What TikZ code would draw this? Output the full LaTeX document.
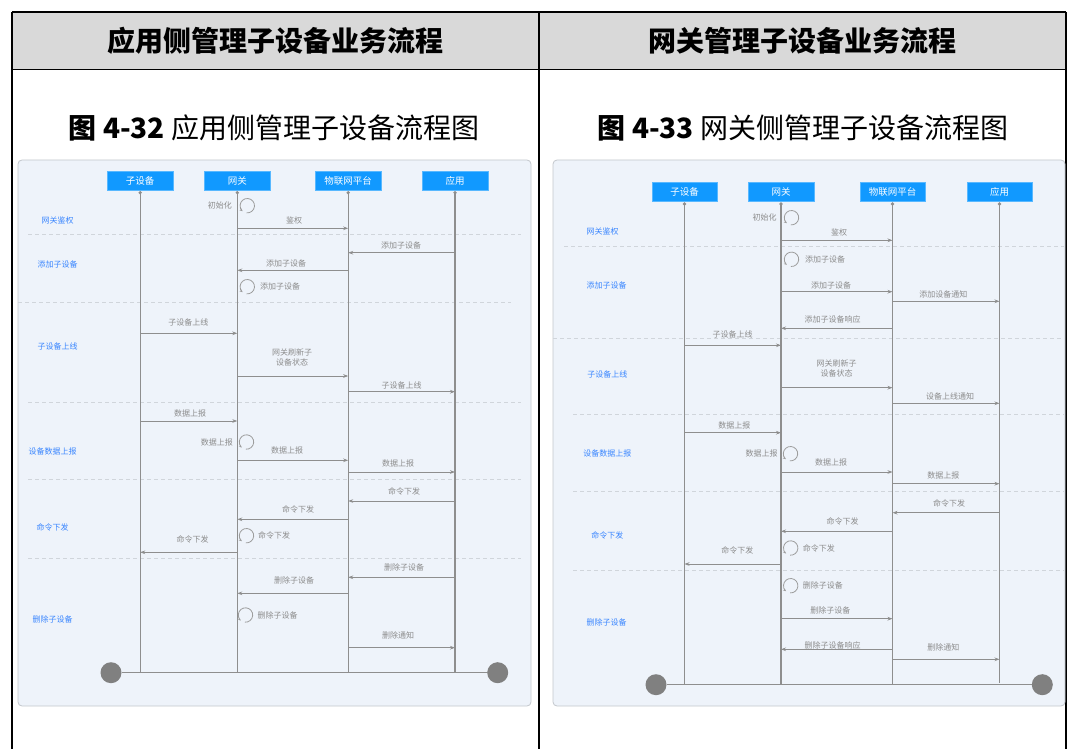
\documentclass[tikz,border=0pt]{standalone}
\usepackage{fontspec}
\setmainfont{Noto Sans CJK SC}
\usetikzlibrary{arrows.meta}
\definecolor{hdr}{HTML}{D9D9D9}
\definecolor{panelbg}{HTML}{EEF3FA}
\definecolor{panelbd}{HTML}{C3C7CC}
\definecolor{boxblue}{HTML}{1199FF}
\definecolor{lblblue}{HTML}{3A86FF}
\definecolor{msggray}{HTML}{8C8C8C}
\definecolor{linegray}{HTML}{8E8E8E}
\definecolor{tipgray}{HTML}{555555}
\definecolor{dashgray}{HTML}{D0D5DB}
\definecolor{endgray}{HTML}{808080}
\newcommand\sqmsg[6]{\draw[msg] (#1 |- 0,#3) -- (#2 |- 0,#3); \node[msglbl] at (#5,#6) {#4};}
\newcommand\sqloop[5]{\draw[loopc] (#1,#2) ++(265:7.2pt) arc[start angle=265, end angle=590, radius=7.2pt];
  \node[msglbl,anchor=#4] at (#5,#2) {#3};}
\begin{document}
\begin{tikzpicture}[x=1pt,y=-1pt,
  actor/.style={fill=boxblue, draw=boxblue!70!white, minimum width=65.5pt, minimum height=19pt, inner sep=0pt, text=white, font=\fontsize{9.5}{11}\selectfont},
  lifeline/.style={draw=linegray, line width=1.1pt},
  msg/.style={draw=linegray, line width=0.9pt, -{Stealth[length=5pt,width=3.6pt,fill=tipgray]}},
  msglbl/.style={text=msggray, font=\fontsize{8}{10}\selectfont, inner sep=0pt, align=center},
  phase/.style={text=lblblue, font=\fontsize{8}{10}\selectfont, inner sep=0pt},
  sepline/.style={draw=dashgray, dash pattern=on 4pt off 3pt, line width=0.7pt},
  loopc/.style={draw=msggray!85, line width=0.8pt, -{Stealth[length=3pt,width=2.6pt]}},
  endpt/.style={circle, fill=endgray, minimum size=21pt, inner sep=0pt},
  panel/.style={fill=panelbg, draw=panelbd, line width=0.8pt, rounded corners=4pt},
  tline/.style={draw=black, line width=1.2pt}]
\useasboundingbox (0,0) rectangle (1069,749);
% table
\fill[hdr] (12,12) rectangle (1066,69.5);
\draw[tline] (12,12) -- (1066,12);
\draw[tline] (12,69.5) -- (1066,69.5);
\draw[tline] (12,12) -- (12,749);
\draw[tline] (539,12) -- (539,749);
\draw[tline] (1066,12) -- (1066,749);
\node[font=\fontsize{28}{30}\selectfont\bfseries] (h1) at (275.5,40.5) {应用侧管理子设备业务流程};
\node[font=\fontsize{28}{30}\selectfont\bfseries] (h2) at (802.5,40.5) {网关管理子设备业务流程};
\node[font=\fontsize{28}{30}\selectfont] (t1) at (274,128) {{\bfseries 图 4-32} 应用侧管理子设备流程图};
\node[font=\fontsize{28}{30}\selectfont] (t2) at (803,128) {{\bfseries 图 4-33} 网关侧管理子设备流程图};
% ================= left panel
\draw[panel] (18,160) rectangle (531,706);
\foreach \yy/\xa/\xb in {234.3/28/521, 302.7/18/511, 402.3/28/521, 479.3/28/521, 558.3/28/521}
  \draw[sepline] (\xa,\yy) -- (\xb,\yy);
\node[actor] (sd1) at (140.2,180.5) {子设备};
\node[actor] (gw1) at (237.3,180.5) {网关};
\node[actor] (pf1) at (348.2,180.5) {物联网平台};
\node[actor] (app1) at (455,180.5) {应用};
\foreach \n in {sd1,gw1,pf1,app1}{
  \coordinate (\n top) at (\n |- 0,192.7);
  \coordinate (\n bot) at (\n |- 0,672.7);
  \draw[lifeline] (\n top) -- (\n bot);
  \fill[linegray] (\n top) circle (1.8pt);
}
\node[endpt] (e1a) at (111,672.7) {};
\node[endpt] (e1b) at (497.7,672.7) {};
\draw[draw=linegray, line width=1.5pt] (e1a) -- (e1b);
\node[phase] (p1a) at (57.7,220) {网关鉴权};
\node[phase] (p1b) at (57.7,264) {添加子设备};
\node[phase] (p1c) at (57.7,346) {子设备上线};
\node[phase] (p1d) at (52.7,451.7) {设备数据上报};
\node[phase] (p1e) at (52.7,527.7) {命令下发};
\node[phase] (p1f) at (52.7,619) {删除子设备};
\sqloop{247.3}{205.7}{初始化}{east}{232}
\sqmsg{gw1}{pf1}{228.3}{鉴权}{294}{220.7}
\sqmsg{app1}{pf1}{252.7}{添加子设备}{401}{245.3}
\sqmsg{pf1}{gw1}{270.3}{添加子设备}{286}{263.3}
\sqloop{247.3}{286.7}{添加子设备}{west}{260}
\sqmsg{sd1}{gw1}{333.3}{子设备上线}{188.3}{322.7}
\sqmsg{gw1}{pf1}{376}{网关刷新子\\设备状态}{292}{357.5}
\sqmsg{pf1}{app1}{391.7}{子设备上线}{401.7}{385.2}
\sqmsg{sd1}{gw1}{421}{数据上报}{190}{413.3}
\sqloop{246.5}{442}{数据上报}{east}{233}
\sqmsg{gw1}{pf1}{460.3}{数据上报}{287}{450.7}
\sqmsg{pf1}{app1}{472}{数据上报}{398}{463.3}
\sqmsg{app1}{pf1}{501}{命令下发}{404}{491.7}
\sqmsg{pf1}{gw1}{519.3}{命令下发}{298}{509.3}
\sqloop{246.5}{535.7}{命令下发}{west}{258}
\sqmsg{gw1}{sd1}{552.3}{命令下发}{192.7}{539.3}
\sqmsg{app1}{pf1}{577.3}{删除子设备}{404}{567.3}
\sqmsg{pf1}{gw1}{593.3}{删除子设备}{294}{580.7}
\sqloop{245.5}{615}{删除子设备}{west}{257.3}
\sqmsg{pf1}{app1}{647.7}{删除通知}{398}{635.7}
% ================= right panel
\draw[panel] (553,160) rectangle (1065,706);
\foreach \yy/\xa/\xb in {246/564/1064, 338.7/553/1064, 414.3/573/1064, 491.3/573/1064, 570/573/1064}
  \draw[sepline] (\xa,\yy) -- (\xb,\yy);
\node[actor] (sd2) at (684.5,192.2) {子设备};
\node[actor] (gw2) at (781,192.2) {网关};
\node[actor] (pf2) at (892.5,192.2) {物联网平台};
\node[actor] (app2) at (999.5,192.2) {应用};
\foreach \n in {sd2,gw2,pf2}{
  \coordinate (\n top) at (\n |- 0,204);
  \coordinate (\n bot) at (\n |- 0,684.7);
  \draw[lifeline] (\n top) -- (\n bot);
  \fill[linegray] (\n top) circle (1.8pt);
}
\coordinate (app2top) at (app2 |- 0,204);
\coordinate (app2bot) at (app2 |- 0,682.7);
\draw[lifeline] (app2top) -- (app2bot);
\fill[linegray] (app2top) circle (1.8pt);
\node[endpt] (e2a) at (656,684.7) {};
\node[endpt] (e2b) at (1042.3,684.7) {};
\draw[draw=linegray, line width=1.5pt] (e2a) -- (e2b);
\node[phase] (p2a) at (602.7,231) {网关鉴权};
\node[phase] (p2b) at (606.7,285) {添加子设备};
\node[phase] (p2c) at (607.3,374) {子设备上线};
\node[phase] (p2d) at (607.3,453.7) {设备数据上报};
\node[phase] (p2e) at (607.3,535.3) {命令下发};
\node[phase] (p2f) at (606.7,622.3) {删除子设备};
\sqloop{791.5}{217.7}{初始化}{east}{776.7}
\sqmsg{gw2}{pf2}{240.3}{鉴权}{839}{232.3}
\sqloop{791.5}{259.3}{添加子设备}{west}{805}
\sqmsg{gw2}{pf2}{291.7}{添加子设备}{831}{285}
\sqmsg{pf2}{app2}{301.3}{添加设备通知}{943.3}{294.7}
\sqmsg{pf2}{gw2}{328.3}{添加子设备响应}{832.7}{319}
\sqmsg{sd2}{gw2}{345.3}{子设备上线}{732.7}{334}
\sqmsg{gw2}{pf2}{387.7}{网关刷新子\\设备状态}{836.7}{368.8}
\sqmsg{pf2}{app2}{403.3}{设备上线通知}{950}{396.5}
\sqmsg{sd2}{gw2}{432.7}{数据上报}{734.3}{425.3}
\sqloop{790.5}{453.7}{数据上报}{east}{777.7}
\sqmsg{gw2}{pf2}{472}{数据上报}{831}{462.7}
\sqmsg{pf2}{app2}{483.7}{数据上报}{943.3}{475.3}
\sqmsg{app2}{pf2}{512.7}{命令下发}{949}{503.3}
\sqmsg{pf2}{gw2}{531.3}{命令下发}{842.7}{521}
\sqloop{790.7}{548}{命令下发}{west}{802.7}
\sqmsg{gw2}{sd2}{564}{命令下发}{737.3}{550.7}
\sqloop{790.7}{585.7}{删除子设备}{west}{802.7}
\sqmsg{gw2}{pf2}{618.7}{删除子设备}{830.3}{610.7}
\sqmsg{pf2}{gw2}{649.3}{删除子设备响应}{832.7}{645}
\sqmsg{pf2}{app2}{659.3}{删除通知}{943.3}{647.3}
\end{tikzpicture}
\end{document}
